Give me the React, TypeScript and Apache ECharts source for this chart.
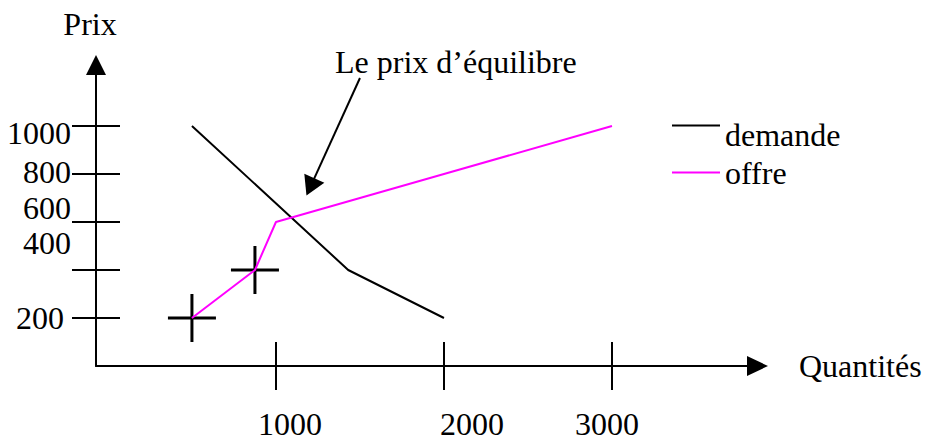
import React, { useEffect, useRef } from "react";
import * as echarts from "echarts";

// ---- Data ----
const seriesNames = ["demande", "offre"];
const quantitesDemande = [500, 1430, 2000];
const prixDemande = [1000, 400, 200];
const quantitesOffre = [500, 875, 1000, 2000, 3000];
const prixOffre = [200, 400, 600, 800, 1000];
// marked points (crosses) on the supply curve
const repereQuantites = [500, 875];
const reperePrix = [200, 400];
// axis ticks
const xTickValues = [1000, 2000, 3000];
const yTickValues = [200, 400, 600, 800, 1000];
// texts
const axisNameY = "Prix";
const axisNameX = "Quantités";
const annotationText = "Le prix d\u2019équilibre";
// annotation arrow (data units): from under the text to the equilibrium
const flecheDebut = [1500, 1200];
const flecheFin = [1205, 746];

const FONT = "'Liberation Serif', 'Times New Roman', serif";
const FS = 32;

export default function App() {
  const ref = useRef<HTMLDivElement>(null);

  useEffect(() => {
    if (!ref.current) return;
    const chart = echarts.init(ref.current, undefined, { renderer: "svg" });

    const demandeData = quantitesDemande.map((q, i) => [q, prixDemande[i]]);
    const offreData = quantitesOffre.map((q, i) => [q, prixOffre[i]]);
    const repereData = repereQuantites.map((q, i) => [q, reperePrix[i]]);

    // the "400" label sits well above its tick in the reference; it is drawn
    // by the second (overlaid) y axis so it is not hidden as overlapping.
    const yLabelsMain = yTickValues.filter((v) => v !== 400);
    const yLabelsAlt = yTickValues.filter((v) => v === 400);

    const yRich: any = {
      l1000: { padding: [15, 0, 0, 0] },
      l800: { padding: [0, 0, 4, 0] },
      l600: { padding: [0, 0, 27, 0] },
      l400: { padding: [0, 0, 54, 0] },
      l200: { padding: [0, 7, 0, 0] },
    };
    const xRich: any = {
      x1000: { padding: [0, 0, 0, 28] },
      x2000: { padding: [0, 0, 0, 56] },
      x3000: { padding: [0, 10, 0, 0] },
    };
    Object.values(yRich).forEach((r: any) => Object.assign(r, { fontFamily: FONT, fontSize: FS, color: "#000", lineHeight: 16 }));
    Object.values(xRich).forEach((r: any) => Object.assign(r, { fontFamily: FONT, fontSize: FS, color: "#000", lineHeight: 32 }));

    const crossPath =
      "path://M22.5,0H25.5V22.5H48V25.5H25.5V48H22.5V25.5H0V22.5H22.5Z";

    const xMin = -71;
    const xMax = 3866;
    const yMin = 0;
    const yMax = 1254;

    const yLabelBase = {
      show: true,
      margin: 25,
      showMinLabel: true,
      showMaxLabel: true,
      hideOverlap: false,
      fontFamily: FONT,
      fontSize: FS,
      color: "#000",
      formatter: (v: number) => `{l${v}|${v}}`,
      rich: yRich,
    };

    const option: any = {
      animation: false,
      backgroundColor: "#fff",
      grid: {
        left: 96,
        right: 167.5,
        top: 65,
        bottom: 77,
        containLabel: false,
        outerBoundsMode: "none",
      },
      legend: {
        orient: "vertical",
        left: 672,
        top: 118.5,
        padding: 0,
        itemGap: 6,
        itemWidth: 48,
        itemHeight: 20,
        selectedMode: false,
        itemStyle: { borderWidth: 0 },
        textStyle: { fontFamily: FONT, fontSize: FS, color: "#000", lineHeight: 32 },
        data: [
          { name: seriesNames[0], icon: "path://M0,0H48V2H0Z M0,19.99H0.01V20H0Z" },
          { name: seriesNames[1], icon: "path://M0,0H0.01V0.01H0Z M0,9H48V11H0Z M0,19.99H0.01V20H0Z" },
        ],
      },
      xAxis: [
        {
          type: "value",
          min: xMin,
          max: xMax,
          position: "bottom",
          name: axisNameX,
          nameLocation: "end",
          nameGap: 41.5,
          nameTextStyle: {
            fontFamily: FONT,
            fontSize: FS,
            color: "#000",
            align: "left",
            verticalAlign: "middle",
            padding: [0, 0, 24, 0],
          },
          axisLine: {
            show: true,
            onZero: false,
            symbol: ["none", "triangle"],
            symbolSize: [20, 21],
            lineStyle: { color: "#000", width: 2 },
          },
          axisTick: {
            show: true,
            inside: false,
            length: 24,
            customValues: xTickValues,
            lineStyle: { color: "#000", width: 2 },
          },
          axisLabel: {
            show: true,
            margin: 41.5,
            showMinLabel: true,
            showMaxLabel: true,
            hideOverlap: false,
            customValues: xTickValues,
            fontFamily: FONT,
            fontSize: FS,
            color: "#000",
            formatter: (v: number) => `{x${v}|${v}}`,
            rich: xRich,
          },
          splitLine: { show: false },
        },
        {
          type: "value",
          min: xMin,
          max: xMax,
          position: "bottom",
          offset: 0,
          axisLine: { show: false, onZero: false },
          axisTick: {
            show: true,
            inside: true,
            length: 24,
            customValues: xTickValues,
            lineStyle: { color: "#000", width: 2 },
          },
          axisLabel: { show: false },
          splitLine: { show: false },
        },
      ],
      yAxis: [
        {
          type: "value",
          min: yMin,
          max: yMax,
          position: "left",
          name: axisNameY,
          nameLocation: "end",
          nameGap: 41.5,
          nameTextStyle: {
            fontFamily: FONT,
            fontSize: FS,
            color: "#000",
            align: "center",
            verticalAlign: "middle",
            padding: [0, 12, 0, 0],
          },
          axisLine: {
            show: true,
            onZero: false,
            symbol: ["none", "triangle"],
            symbolSize: [20, 20],
            lineStyle: { color: "#000", width: 2 },
          },
          axisTick: {
            show: true,
            inside: false,
            length: 24,
            customValues: yTickValues,
            lineStyle: { color: "#000", width: 2 },
          },
          axisLabel: { ...yLabelBase, customValues: yLabelsMain },
          splitLine: { show: false },
        },
        {
          type: "value",
          min: yMin,
          max: yMax,
          position: "left",
          offset: 0,
          axisLine: { show: false, onZero: false },
          axisTick: {
            show: true,
            inside: true,
            length: 24,
            customValues: yTickValues,
            lineStyle: { color: "#000", width: 2 },
          },
          axisLabel: { ...yLabelBase, customValues: yLabelsAlt },
          splitLine: { show: false },
        },
      ],
      graphic: [
        {
          type: "text",
          x: 335,
          y: 61.5,
          style: {
            text: annotationText,
            fontFamily: FONT,
            fontSize: FS,
            fill: "#000",
            align: "left",
            verticalAlign: "middle",
          },
        },
      ],
      series: [
        {
          name: "repères",
          type: "scatter",
          xAxisIndex: 0,
          yAxisIndex: 0,
          data: repereData,
          symbol: crossPath,
          symbolSize: 48,
          itemStyle: { color: "#000", opacity: 1 },
          z: 1,
          silent: true,
        },
        {
          name: seriesNames[0],
          type: "line",
          xAxisIndex: 0,
          yAxisIndex: 0,
          data: demandeData,
          color: "#000",
          itemStyle: { color: "#000" },
          lineStyle: { color: "#000", width: 2 },
          symbol: "none",
          showSymbol: false,
          z: 3,
          markLine: {
            silent: true,
            symbol: ["none", "triangle"],
            symbolSize: [22, 19],
            label: { show: false },
            lineStyle: { color: "#000", width: 2, type: "solid" },
            data: [[{ coord: flecheDebut }, { coord: flecheFin }]],
          },
        },
        {
          name: seriesNames[1],
          type: "line",
          xAxisIndex: 0,
          yAxisIndex: 0,
          data: offreData,
          color: "#ff00ff",
          itemStyle: { color: "#ff00ff" },
          lineStyle: { color: "#ff00ff", width: 2 },
          symbol: "none",
          showSymbol: false,
          z: 4,
        },
      ],
    };

    chart.setOption(option);
    return () => {
      chart.dispose();
    };
  }, []);

  return (
    <div
      ref={ref}
      style={{ position: "absolute", left: 0, top: 0, width: 925, height: 443, background: "#fff" }}
    />
  );
}
